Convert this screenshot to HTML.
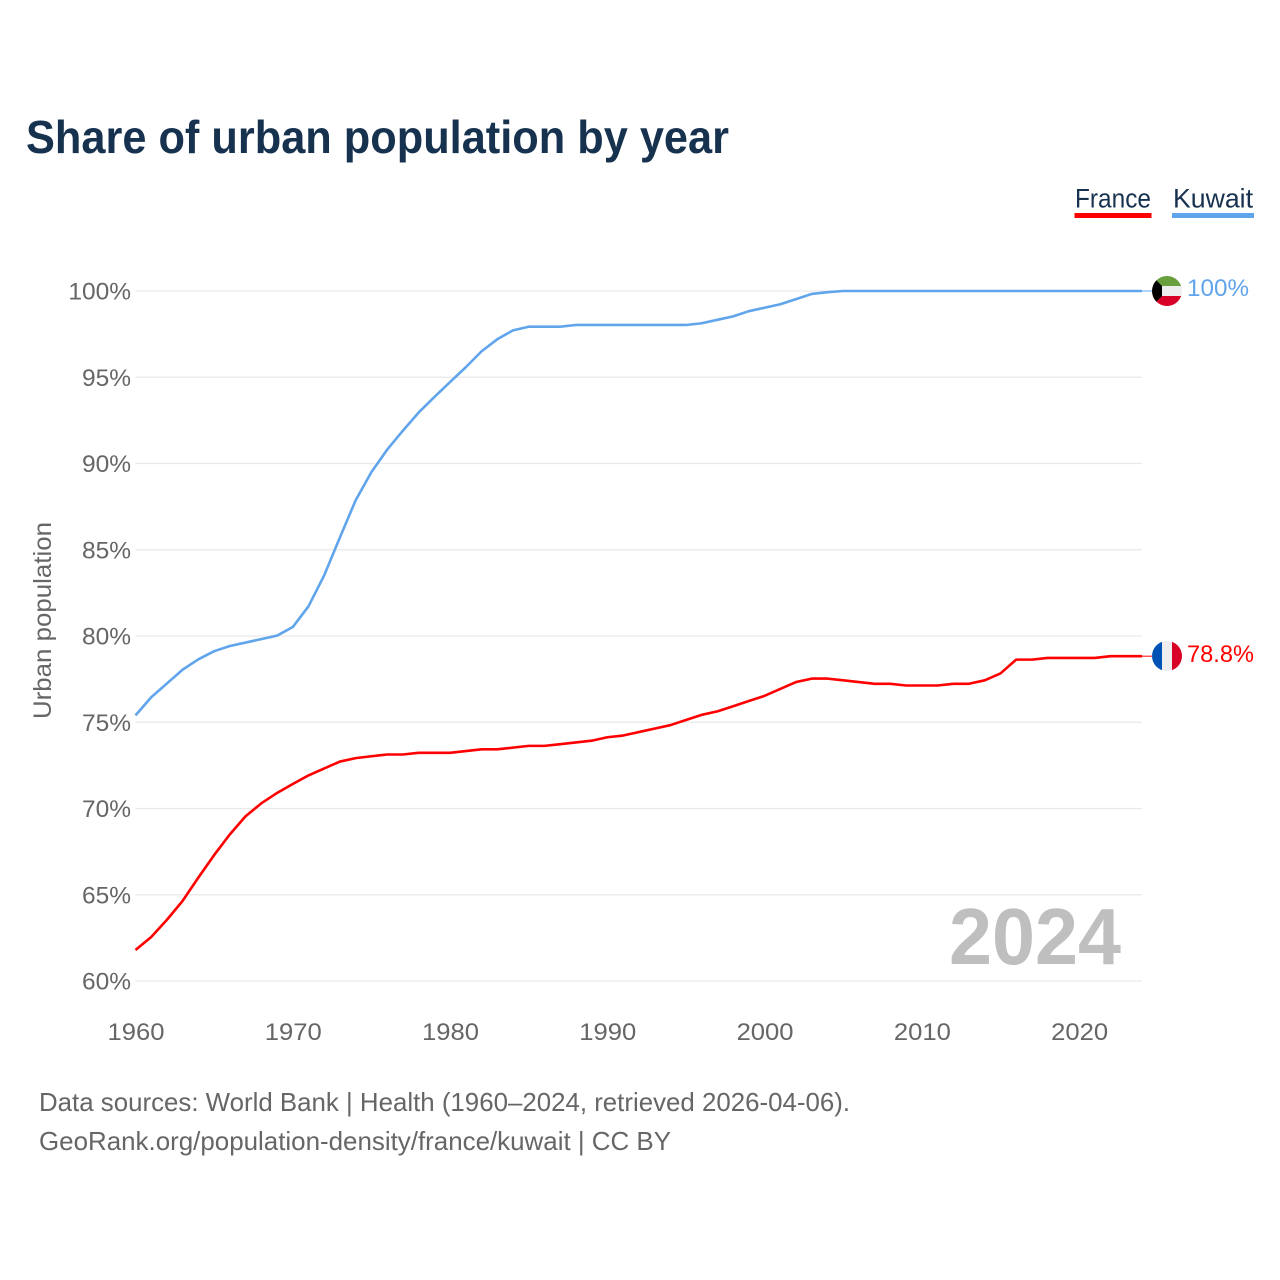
<!DOCTYPE html>
<html lang="en">
<head>
<meta charset="utf-8">
<title>Share of urban population by year</title>
<style>
html,body{margin:0;padding:0;background:#fff}
svg{display:block}
text{font-family:"Liberation Sans",sans-serif}
</style>
</head>
<body>
<svg id="chart" xmlns="http://www.w3.org/2000/svg" width="1280" height="1280" viewBox="0 0 1280 1280">
  <rect width="1280" height="1280" fill="#fff"/>
  <defs>
    <clipPath id="kw-clip"><circle cx="1167" cy="291" r="15"/></clipPath>
    <clipPath id="fr-clip"><circle cx="1167" cy="656" r="15"/></clipPath>
  </defs>
  <text x="26" y="153" font-size="46" font-weight="700" fill="#17324f" textLength="703" lengthAdjust="spacingAndGlyphs">Share of urban population by year</text>

  <g>
    <g>
      <text x="1075" y="207.500" font-size="27" fill="#17324f" textLength="76" lengthAdjust="spacingAndGlyphs">France</text>
      <rect x="1074.500" y="213" width="77" height="5" fill="#ff0000"/>
    </g>
    <g>
      <text x="1173" y="207.500" font-size="27" fill="#17324f" textLength="80" lengthAdjust="spacingAndGlyphs">Kuwait</text>
      <rect x="1172" y="213" width="82" height="5" fill="#60a5ec"/>
    </g>
  </g>

  <g id="grid"></g>
  <g id="y-axis"></g>
  <g id="x-axis"></g>
  <text transform="translate(51,620.500) rotate(-90)" text-anchor="middle" font-size="25" fill="#666" textLength="197" lengthAdjust="spacingAndGlyphs">Urban population</text>

  <text x="949" y="964" font-size="80" font-weight="700" fill="#bfbfbf" textLength="172" lengthAdjust="spacingAndGlyphs">2024</text>

  <g id="series"></g>

  <g id="flag-kuwait">
    <g clip-path="url(#kw-clip)">
      <rect x="1152" y="276" width="30" height="10" fill="#6a9f3e"/>
      <rect x="1152" y="286" width="30" height="10" fill="#eeeeee"/>
      <rect x="1152" y="296" width="30" height="10" fill="#d80027"/>
      <polygon points="1152,276 1162,286 1162,296 1152,306" fill="#000"/>
    </g>
  </g>
  <g id="flag-france">
    <g clip-path="url(#fr-clip)">
      <rect x="1152" y="641" width="10" height="30" fill="#0052b4"/>
      <rect x="1162" y="641" width="10" height="30" fill="#eeeeee"/>
      <rect x="1172" y="641" width="10" height="30" fill="#d80027"/>
    </g>
  </g>
  <text id="value-kuwait" x="1187" y="296" font-size="24.500" fill="#60a5ec" textLength="62" lengthAdjust="spacingAndGlyphs"></text>
  <text id="value-france" x="1187" y="662" font-size="24.500" fill="#ff0000" textLength="67" lengthAdjust="spacingAndGlyphs"></text>

  <text x="39" y="1111" font-size="26" fill="#666" textLength="811" lengthAdjust="spacingAndGlyphs">Data sources: World Bank | Health (1960–2024, retrieved 2026-04-06).</text>
  <text x="39" y="1150" font-size="26" fill="#666" textLength="632" lengthAdjust="spacingAndGlyphs">GeoRank.org/population-density/france/kuwait | CC BY</text>
</svg>
<script>
const years = [1960,1961,1962,1963,1964,1965,1966,1967,1968,1969,1970,1971,1972,1973,1974,1975,1976,1977,1978,1979,1980,1981,1982,1983,1984,1985,1986,1987,1988,1989,1990,1991,1992,1993,1994,1995,1996,1997,1998,1999,2000,2001,2002,2003,2004,2005,2006,2007,2008,2009,2010,2011,2012,2013,2014,2015,2016,2017,2018,2019,2020,2021,2022,2023,2024];
const kuwaitValues = [75.4,76.45,77.25,78.05,78.65,79.12,79.42,79.62,79.82,80.02,80.52,81.72,83.52,85.72,87.87,89.5,90.8,91.9,92.95,93.85,94.72,95.58,96.5,97.2,97.72,97.93,97.93,97.93,98.03,98.03,98.03,98.03,98.03,98.03,98.03,98.03,98.13,98.33,98.53,98.83,99.03,99.23,99.53,99.83,99.93,100,100,100,100,100,100,100,100,100,100,100,100,100,100,100,100,100,100,100,100];
const franceValues = [61.8,62.55,63.55,64.65,66.0,67.3,68.5,69.55,70.3,70.9,71.42,71.92,72.32,72.72,72.92,73.03,73.13,73.13,73.23,73.23,73.23,73.33,73.43,73.43,73.53,73.63,73.63,73.73,73.83,73.93,74.13,74.23,74.43,74.63,74.83,75.13,75.43,75.63,75.93,76.23,76.53,76.93,77.33,77.53,77.53,77.43,77.33,77.23,77.23,77.13,77.13,77.13,77.23,77.23,77.43,77.83,78.63,78.63,78.73,78.73,78.73,78.73,78.83,78.83,78.83];
const yTickValues = [60,65,70,75,80,85,90,95,100];
const xTickValues = [1960,1970,1980,1990,2000,2010,2020];
const valueLabelKuwait = "100%";
const valueLabelFrance = "78.8%";

const NS = "http://www.w3.org/2000/svg";
function xScale(year){ return 135.5 + (year - 1960) * (1142 - 135.5) / 64; }
function yScale(v){ return 981 - (v - 60) * (981 - 291) / 40; }
function make(tag, attrs, parent){
  const el = document.createElementNS(NS, tag);
  for (const k in attrs) el.setAttribute(k, attrs[k]);
  parent.appendChild(el);
  return el;
}
const grid = document.getElementById('grid');
const yAxis = document.getElementById('y-axis');
const xAxis = document.getElementById('x-axis');
const seriesGroup = document.getElementById('series');

yTickValues.forEach(function(v){
  const line = make('line', {x1:135.5, x2:1142, y1:yScale(v), y2:yScale(v), stroke:'#e9e9e9', 'stroke-width':1.2}, grid);
  
  
  const t = make('text', {x:131, y:yScale(v)+8.500, 'text-anchor':'end', 'font-size':24.5, fill:'#666'}, yAxis);
  t.textContent = v + '%';
  
  
});
xTickValues.forEach(function(y){
  const t = make('text', {x:xScale(y)+0.5, y:1040, 'text-anchor':'middle', 'font-size':24.5, fill:'#666', textLength:57, lengthAdjust:'spacingAndGlyphs'}, xAxis);
  t.textContent = String(y);
  
  
});

function pathFor(values){
  return values.map(function(v,i){ return (i ? 'L' : 'M') + xScale(years[i]).toFixed(2) + ' ' + yScale(v).toFixed(2); }).join(' ');
}
function drawSeries(name, values, color){
  const line = make('path', {d:pathFor(values), fill:'none', stroke:color, 'stroke-width':2.6, 'stroke-linejoin':'round'}, seriesGroup);
  
  
  const lastY = yScale(values[values.length - 1]);
  const lead = make('line', {x1:1142, x2:1152, y1:lastY, y2:lastY, stroke:color, 'stroke-width':1}, seriesGroup);
  
  
}
drawSeries('kuwait', kuwaitValues, '#60a5ec');
drawSeries('france', franceValues, '#ff0000');
document.getElementById('value-kuwait').textContent = valueLabelKuwait;
document.getElementById('value-france').textContent = valueLabelFrance;
</script>
</body>
</html>
